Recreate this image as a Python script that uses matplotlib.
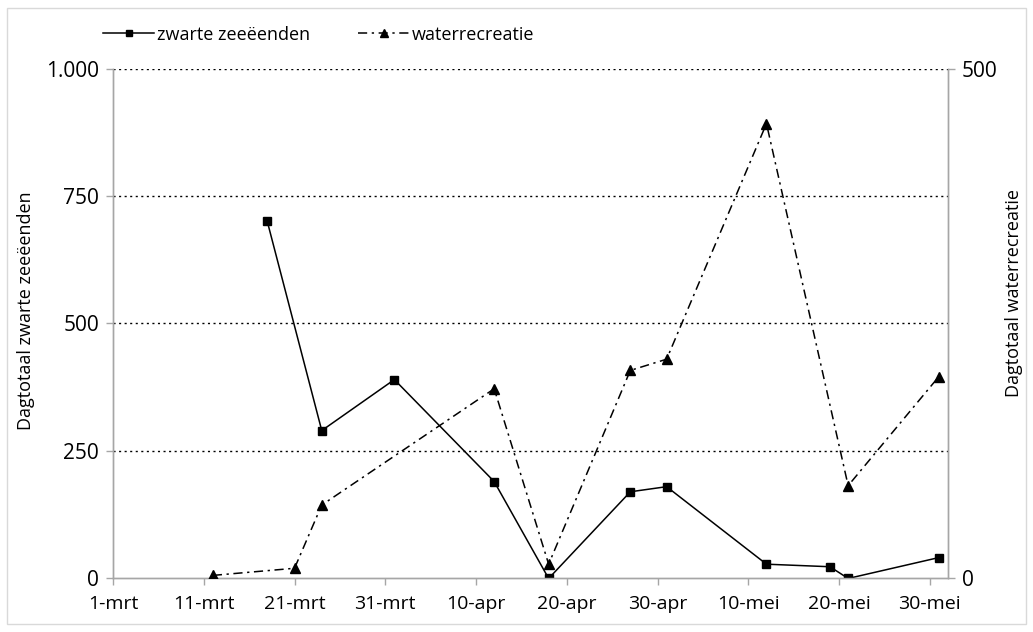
import numpy as np
import matplotlib.pyplot as plt
from matplotlib.patches import Rectangle
from matplotlib.lines import Line2D

plt.rcParams['font.family'] = ['Open Sans', 'DejaVu Sans']
plt.rcParams['font.size'] = 13

# dagen sinds 1 maart
tick_days = [0, 10, 20, 30, 40, 50, 60, 70, 80, 90]
tick_labels = ["1-mrt", "11-mrt", "21-mrt", "31-mrt", "10-apr",
               "20-apr", "30-apr", "10-mei", "20-mei", "30-mei"]

# zwarte zee-eenden (linker as)
zz_days = [17, 23, 31, 42, 48, 57, 61, 72, 79, 81, 91]
zz_vals = [700, 290, 390, 190, 0, 170, 180, 28, 23, 0, 41]

# waterrecreatie (rechter as)
wr_days = [11, 20, 23, 42, 48, 57, 61, 72, 81, 91]
wr_vals = [3, 10, 72, 186, 14, 204, 215, 446, 91, 198]

left_ticks = [0, 250, 500, 750, 1000]
left_labels = ["0", "250", "500", "750", "1.000"]

grey = "#a6a6a6"
dashdot = (0, (6, 3, 1.5, 3))

fig = plt.figure(figsize=(10.33, 6.32), dpi=100)
ax = fig.add_axes([0.1094, 0.0847, 0.8083, 0.8069])
ax2 = ax.twinx()

ax.plot(zz_days, zz_vals, color="black", lw=1.1, marker="s", ms=6,
        zorder=3)
ax2.plot(wr_days, wr_vals, color="black", lw=1.1, ls=dashdot, marker="^",
         ms=6.5, zorder=3)

ax.set_xlim(0, 92)
ax.set_ylim(0, 1000)
ax2.set_ylim(0, 500)

ax.set_xticks(tick_days)
ax.set_xticklabels(tick_labels, fontsize=14)
ax.set_yticks(left_ticks)
ax.set_yticklabels(left_labels, fontsize=15)
ax2.set_yticks([0, 500])
ax2.set_yticklabels(["0", "500"], fontsize=15)

# gestippelde rasterlijnen
for v in left_ticks[1:]:
    ax.axhline(v, color="black", lw=1, ls=(0, (1.5, 2.5)), zorder=1)

for a in (ax, ax2):
    a.spines["top"].set_visible(False)
    for s in ("left", "right", "bottom"):
        a.spines[s].set_color(grey)
        a.spines[s].set_linewidth(1)
    a.tick_params(color=grey, length=5, width=1, labelcolor="black")
ax.tick_params(axis="x", pad=7)
ax.tick_params(axis="y", pad=5)
ax2.tick_params(axis="y", pad=5)

ax.set_ylabel("Dagtotaal zwarte zeeëenden")
ax2.set_ylabel("Dagtotaal waterrecreatie")
ax.yaxis.set_label_coords(-0.094, 0.526)
ax2.yaxis.set_label_coords(1.068, 0.56)

handles = [
    Line2D([], [], color="black", lw=1.1, marker="s", ms=5),
    Line2D([], [], color="black", lw=1.1, ls=dashdot, marker="^", ms=5.5),
]
fig.legend(handles, ["zwarte zeeëenden", "waterrecreatie"], ncol=2,
           loc="center left", bbox_to_anchor=(0.1, 0.945), frameon=False,
           borderpad=0, borderaxespad=0, handlelength=2.8,
           handletextpad=0.15, columnspacing=2.7)

# lichtgrijze kader om de figuur
fig.patches.append(Rectangle((0.007, 0.012), 0.986, 0.976,
                             transform=fig.transFigure, fill=False,
                             edgecolor="#d9d9d9", lw=1))

fig.savefig("out.png", dpi=100)
